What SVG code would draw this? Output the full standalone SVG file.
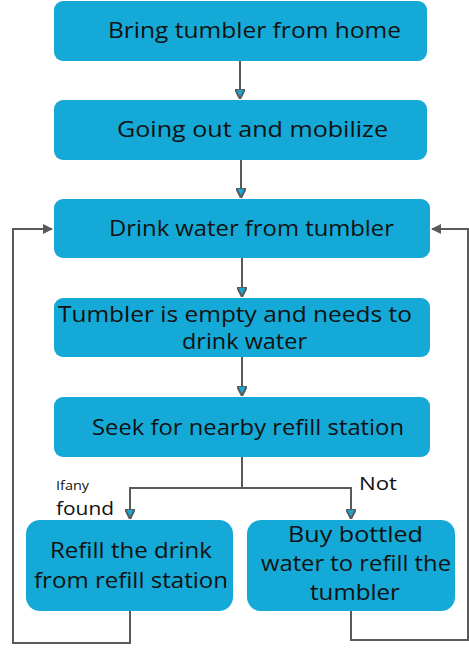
<svg xmlns="http://www.w3.org/2000/svg" width="469" height="649" viewBox="0 0 469 649">
<style>
.box{fill:#14A9D6;}
.t{font-family:"Open Sans","Liberation Sans",sans-serif;font-size:21px;fill:#111;}
.c{fill:none;stroke:#5a5a5a;stroke-width:2;}
.lbl{font-family:"Open Sans","Liberation Sans",sans-serif;fill:#111;}
</style>
<defs>
<marker id="ah" viewBox="0 0 10 10" refX="9" refY="5" markerWidth="5" markerHeight="5" orient="auto" markerUnits="strokeWidth">
<path d="M0,0 L10,5 L0,10 z" fill="#14A9D6" stroke="#5a5a5a" stroke-width="2"/>
</marker>
<marker id="ahs" viewBox="0 0 10 10" refX="9" refY="5" markerWidth="5" markerHeight="5" orient="auto" markerUnits="strokeWidth">
<path d="M0,0 L10,5 L0,10 z" fill="#5a5a5a"/>
</marker>
</defs>
<rect width="469" height="649" fill="#fff"/>
<g id="connectors">
<path class="c" d="M240,61 V98" marker-end="url(#ah)"/>
<path class="c" d="M241,160 V197" marker-end="url(#ah)"/>
<path class="c" d="M242,258 V296" marker-end="url(#ah)"/>
<path class="c" d="M242,357 V395" marker-end="url(#ah)"/>
<path class="c" d="M242,457 V488 H130 V518" marker-end="url(#ah)"/>
<path class="c" d="M242,488 H351 V518" marker-end="url(#ah)"/>
<path class="c" d="M130,611 V643 H13 V229 H52" marker-end="url(#ahs)"/>
<path class="c" d="M351,611 V640 H468 V229 H432" marker-end="url(#ahs)"/>
</g>
<g id="n1"><rect class="box" x="54" y="1" width="373" height="60" rx="9"/>
<text class="t" x="108" y="38" textLength="293" lengthAdjust="spacingAndGlyphs">Bring tumbler from home</text></g>
<g id="n2"><rect class="box" x="54" y="100" width="373" height="60" rx="9"/>
<text class="t" x="117" y="137" textLength="271" lengthAdjust="spacingAndGlyphs">Going out and mobilize</text></g>
<g id="n3"><rect class="box" x="54" y="199" width="376" height="59" rx="9"/>
<text class="t" x="109" y="236" textLength="285" lengthAdjust="spacingAndGlyphs">Drink water from tumbler</text></g>
<g id="n4"><rect class="box" x="54" y="298" width="376" height="59" rx="9"/>
<text class="t" x="58" y="322" textLength="354" lengthAdjust="spacingAndGlyphs">Tumbler is empty and needs to</text>
<text class="t" x="182" y="349" textLength="125" lengthAdjust="spacingAndGlyphs">drink water</text></g>
<g id="n5"><rect class="box" x="54" y="397" width="376" height="60" rx="9"/>
<text class="t" x="92" y="435" textLength="312" lengthAdjust="spacingAndGlyphs">Seek for nearby refill station</text></g>
<g id="n6"><rect class="box" x="26" y="520" width="207" height="91" rx="14"/>
<text class="t" x="50" y="558" textLength="162" lengthAdjust="spacingAndGlyphs">Refill the drink</text>
<text class="t" x="34" y="588" textLength="194" lengthAdjust="spacingAndGlyphs">from refill  station</text></g>
<g id="n7"><rect class="box" x="247" y="520" width="208" height="91" rx="14"/>
<text class="t" x="288" y="542" textLength="135" lengthAdjust="spacingAndGlyphs">Buy bottled</text>
<text class="t" x="261" y="571" textLength="190" lengthAdjust="spacingAndGlyphs">water to refill  the</text>
<text class="t" x="310" y="600" textLength="90" lengthAdjust="spacingAndGlyphs">tumbler</text></g>
<g id="labels">
<text class="lbl" x="56" y="490" font-size="12" textLength="33" lengthAdjust="spacingAndGlyphs">Ifany</text>
<text class="lbl" x="56" y="515" font-size="18" textLength="58" lengthAdjust="spacingAndGlyphs">found</text>
<text class="lbl" x="359" y="490" font-size="18" textLength="38" lengthAdjust="spacingAndGlyphs">Not</text>
</g>
</svg>
